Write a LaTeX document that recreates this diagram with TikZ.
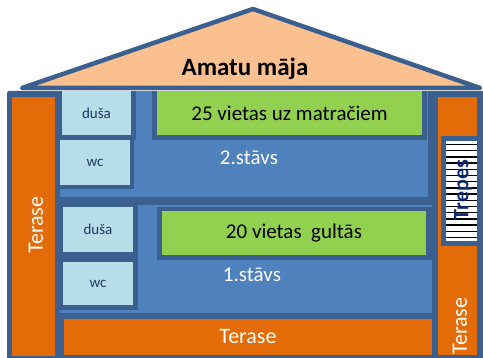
\documentclass[tikz,border=0pt]{standalone}
\usepackage{fontspec}
\setmainfont{Carlito}
\definecolor{dkblue}{HTML}{3B5F8E}
\definecolor{mdblue}{HTML}{4F81BD}
\definecolor{ltblue}{HTML}{B7DEE8}
\definecolor{grn}{HTML}{92D050}
\definecolor{orng}{HTML}{E36C09}
\definecolor{peach}{HTML}{FAC090}
\definecolor{navy}{HTML}{1F3864}
\definecolor{deepnavy}{HTML}{0E2A6E}
\begin{document}
\begin{tikzpicture}[x=1pt,y=-1pt,
  box/.style={inner sep=0pt, outer sep=0pt, anchor=north west},
  shadow/.style={fill=dkblue},
  room/.style={box, fill=ltblue, text=navy, font=\fontsize{15}{16}\selectfont},
  bed/.style={box, fill=grn, text=black, font=\fontsize{21}{22}\selectfont},
  terr/.style={box, fill=orng, text=white, font=\fontsize{22}{23}\selectfont},
  vlbl/.style={text=white, font=\fontsize{22}{23}\selectfont, rotate=90, inner sep=0pt},
  floorlbl/.style={text=white, font=\fontsize{21}{22}\selectfont, inner sep=0pt}]
\useasboundingbox (0,0) rectangle (483,358);
% roof
\draw[draw=dkblue, line width=4.5pt, fill=peach, line join=round] (22,88) -- (253,9) -- (480,88) -- cycle;
\node[font=\bfseries\fontsize{25}{26}\selectfont, inner sep=0pt] (title) at (245,69) {Amatu māja};
% body background
\fill[dkblue, rounded corners=2pt] (7,91) rectangle (490,362);
% floor 2
\node[box, fill=mdblue, minimum width=368pt, minimum height=106pt] (floor2) at (60,91) {};
\fill[shadow] (58,91) rectangle (136,140);
\node[room, minimum width=69pt, minimum height=44pt] (dusa2) at (62,91) {duša};
\fill[shadow] (58,138) rectangle (134,189);
\node[room, minimum width=70pt, minimum height=45pt] (wc2) at (60,140) {wc};
\fill[shadow] (152,91) rectangle (427,140);
\node[bed, minimum width=265pt, minimum height=44pt] (bed2) at (157,91) {25 vietas uz matračiem};
\node[floorlbl] (lbl2) at (249,158) {2.stāvs};
% floor 1
\node[box, fill=mdblue, minimum width=372pt, minimum height=108pt] (floor1) at (60,205) {};
\fill[shadow] (60,205) rectangle (138,310);
\node[room, minimum width=70pt, minimum height=45pt] (dusa1) at (63,207) {duša};
\node[room, minimum width=70pt, minimum height=43pt] (wc1) at (63,262) {wc};
\fill[shadow] (157,207) rectangle (432,260);
\node[bed, minimum width=264pt, minimum height=44pt] (bed1) at (162,211) {20 vietas\ \ gultās};
\node[floorlbl] (lbl1) at (252,275) {1.stāvs};
% terraces
\node[terr, minimum width=43pt, minimum height=259pt] (terL) at (12,97) {};
\node[vlbl] (terLt) at (36,225) {Terase};
\node[terr, minimum width=368pt, minimum height=36pt] (terB) at (64,319) {Terase};
\node[terr, minimum width=39pt, minimum height=258pt] (terR) at (438,97) {};
\node[vlbl] (terRt) at (460,326) {Terase};
% stairs
\fill[shadow] (441,136) rectangle (477,246);
\node[box, fill=white, minimum width=31pt, minimum height=100pt] (stairs) at (446,141) {};
\foreach \i in {0,...,15} {
  \draw[black, line width=1.4pt] (446,{144.5+6.2*\i}) -- (477,{144.5+6.2*\i});
}
\node[text=deepnavy, font=\bfseries\fontsize{22}{23}\selectfont, rotate=90, inner sep=0pt] (trep) at (463,190) {Trepes};
\end{tikzpicture}
\end{document}
